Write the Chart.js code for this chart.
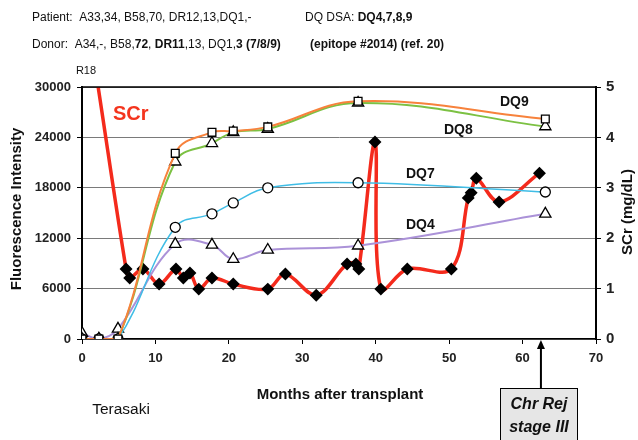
<!DOCTYPE html>
<html>
<head>
<meta charset="utf-8">
<script src="https://cdn.jsdelivr.net/npm/chart.js@4.4.1/dist/chart.umd.min.js"></script>
<style>
  html, body { margin: 0; padding: 0; background: #fff; }
  #wrap { width: 638px; height: 440px; }
</style>
</head>
<body>
<div id="wrap"><canvas id="chart" width="638" height="440"></canvas></div>
<script>
'use strict';

// DSA measurements (months after transplant)
var dsaMonths = [0, 2.3, 4.9, 12.7, 17.7, 20.6, 25.3, 37.6, 63.1];
var dq9 = [0, 0, 0, 22100, 24600, 24750, 25250, 28300, 26200];
var dq8 = [0, 0, 0, 21100, 23300, 24600, 25000, 28100, 25300];
var dq7 = [0, 0, 0, 13300, 14900, 16200, 18000, 18600, 17500];
var dq4 = [700, 0, 1200, 11300, 11200, 9500, 10600, 11100, 14900];

// serum creatinine (mg/dL), first value off scale (R18)
var scrMonths = [2.2, 6.0, 6.5, 8.3, 10.5, 12.8, 13.8, 14.7, 15.9, 17.7, 20.6, 25.3, 27.7, 31.9,
  36.1, 37.3, 37.7, 39.9, 40.7, 44.3, 50.3, 52.6, 53.0, 53.7, 56.8, 62.3];
var scrValues = [5.0, 1.39, 1.21, 1.39, 1.09, 1.39, 1.21, 1.31, 0.99, 1.21, 1.09, 0.99, 1.29, 0.87,
  1.49, 1.49, 1.39, 3.91, 0.99, 1.39, 1.39, 2.80, 2.90, 3.19, 2.72, 3.29];

var xTicks = [0, 10, 20, 30, 40, 50, 60, 70];
var fiTicks = [0, 6000, 12000, 18000, 24000, 30000];
var scrTicks = [0, 1, 2, 3, 4, 5];

function pts(xs, ys) {
  return xs.map(function(x, i) { return { x: x, y: ys[i] }; });
}

var FONT = '"Liberation Sans", Arial, sans-serif';

function runs(ctx, x, y, parts) {
  parts.forEach(function(p) {
    ctx.font = (p[1] ? 'bold ' : '') + '12px ' + FONT;
    ctx.fillText(p[0], x, y);
    x += ctx.measureText(p[0]).width;
  });
}

function plain(v) { return String(v); }

var extras = {
  id: 'extras',
  afterDraw: function(chart) {
    var ctx = chart.ctx, a = chart.chartArea, xs = chart.scales.x;
    ctx.save();
    // top border
    ctx.strokeStyle = '#000';
    ctx.lineWidth = 1.5;
    ctx.beginPath(); ctx.moveTo(a.left, a.top); ctx.lineTo(a.right, a.top); ctx.stroke();

    ctx.fillStyle = '#111';
    ctx.textBaseline = 'middle';
    ctx.textAlign = 'left';
    // header
    runs(ctx, 32, 18, [['Patient:  A33,34, B58,70, DR12,13,DQ1,-', false]]);
    runs(ctx, 305, 18, [['DQ DSA: ', false], ['DQ4,7,8,9', true]]);
    runs(ctx, 32, 45, [['Donor:  A34,-, B58,', false], ['72', true], [', ', false], ['DR11', true],
      [',13, DQ1,', false], ['3 (7/8/9)', true]]);
    runs(ctx, 310, 45, [['(epitope #2014) (ref. 20)', true]]);

    // series labels
    ctx.font = 'bold 14px ' + FONT;
    ctx.fillText('DQ9', 500, 102);
    ctx.fillText('DQ8', 444, 130);
    ctx.fillText('DQ7', 406, 174);
    ctx.fillText('DQ4', 406, 225);
    ctx.fillStyle = '#f4351e';
    ctx.font = 'bold 20px ' + FONT;
    ctx.fillText('SCr', 113, 114);
    ctx.fillStyle = '#111';
    ctx.font = '11px ' + FONT;
    ctx.textAlign = 'center';
    ctx.fillText('R18', 86, 71);

    // axis titles
    ctx.font = 'bold 15px ' + FONT;
    ctx.fillText('Months after transplant', 340, 395);
    ctx.font = '15.5px ' + FONT;
    ctx.fillText('Terasaki', 121, 410);
    ctx.font = 'bold 15px ' + FONT;
    ctx.save();
    ctx.translate(17, (a.top + a.bottom) / 2 - 4);
    ctx.rotate(-Math.PI / 2);
    ctx.fillText('Fluorescence Intensity', 0, 0);
    ctx.restore();
    ctx.save();
    ctx.translate(628, 212);
    ctx.rotate(-Math.PI / 2);
    ctx.fillText('SCr (mg/dL)', 0, 0);
    ctx.restore();

    // rejection marker
    var ax = xs.getPixelForValue(62.5);
    ctx.strokeStyle = '#000';
    ctx.lineWidth = 2;
    ctx.beginPath(); ctx.moveTo(ax, 388); ctx.lineTo(ax, a.bottom + 6); ctx.stroke();
    ctx.beginPath();
    ctx.moveTo(ax, a.bottom + 1); ctx.lineTo(ax - 4, a.bottom + 10); ctx.lineTo(ax + 4, a.bottom + 10);
    ctx.closePath(); ctx.fillStyle = '#000'; ctx.fill();
    ctx.fillStyle = '#e6e6e6';
    ctx.fillRect(500, 388, 78, 56);
    ctx.lineWidth = 1;
    ctx.strokeRect(500.5, 388.5, 77, 56);
    ctx.fillStyle = '#111';
    ctx.font = 'italic bold 16px ' + FONT;
    ctx.fillText('Chr Rej', 539, 405);
    ctx.fillText('stage III', 539, 428);
    ctx.restore();
  }
};

function dsaSet(label, data, color, style, width, radius) {
  return {
    label: label, data: pts(dsaMonths, data), yAxisID: 'y',
    borderColor: color, borderWidth: width, tension: 0.4,
    pointStyle: style, pointRadius: radius, pointBackgroundColor: '#fff',
    pointBorderColor: '#000', pointBorderWidth: 1.3
  };
}

new Chart(document.getElementById('chart'), {
  type: 'line',
  data: {
    datasets: [
      dsaSet('DQ9', dq9, '#f7823c', 'rect', 2, 5.5),
      dsaSet('DQ8', dq8, '#7cc143', 'triangle', 2, 6.5),
      dsaSet('DQ7', dq7, '#3fbde6', 'circle', 1.5, 5),
      dsaSet('DQ4', dq4, '#ab92d8', 'triangle', 2, 6.5),
      {
        label: 'SCr', data: pts(scrMonths, scrValues), yAxisID: 'y2',
        borderColor: '#f42a1c', borderWidth: 3.5, tension: 0.35,
        pointStyle: 'rectRot', pointBackgroundColor: '#000', pointBorderColor: '#000',
        pointRadius: scrValues.map(function(v, i) { return i === 0 ? 0 : 4; })
      }
    ]
  },
  options: {
    responsive: false,
    animation: false,
    devicePixelRatio: 1,
    layout: { padding: { top: 87, left: 0, right: 0, bottom: 0 } },
    plugins: { legend: { display: false }, tooltip: { enabled: false } },
    scales: {
      x: {
        type: 'linear', min: 0, max: 70,
        afterBuildTicks: function(s) { s.ticks = xTicks.map(function(v) { return { value: v }; }); },
        afterFit: function(s) { s.height = 101; },
        ticks: { color: '#222', padding: 7, callback: plain, font: { family: FONT, size: 13, weight: 'bold' } },
        grid: { drawOnChartArea: false, tickLength: 5, color: '#000', tickColor: '#000' },
        border: { color: '#000', width: 1.5 }
      },
      y: {
        position: 'left', min: 0, max: 30000,
        afterBuildTicks: function(s) { s.ticks = fiTicks.map(function(v) { return { value: v }; }); },
        afterFit: function(s) { s.width = 82; },
        ticks: { color: '#222', padding: 6, callback: plain, font: { family: FONT, size: 13, weight: 'bold' } },
        grid: { color: '#7a7a7a', lineWidth: 1, tickLength: 5, tickColor: '#000' },
        border: { color: '#000', width: 2 }
      },
      y2: {
        position: 'right', min: 0, max: 5,
        afterBuildTicks: function(s) { s.ticks = scrTicks.map(function(v) { return { value: v }; }); },
        afterFit: function(s) { s.width = 42; },
        ticks: { color: '#222', padding: 5, callback: plain, font: { family: FONT, size: 15, weight: 'bold' } },
        grid: { drawOnChartArea: false, tickLength: 5, tickColor: '#000' },
        border: { color: '#000', width: 2 }
      }
    }
  },
  plugins: [extras]
});
</script>
</body>
</html>
